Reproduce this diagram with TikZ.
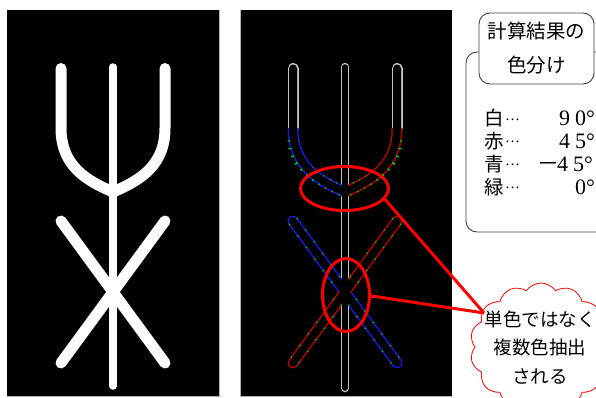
\documentclass[tikz,border=0pt]{standalone}
\usepackage{fontspec}
\setmainfont{Liberation Serif}
\newfontfamily\jpfont{Noto Sans CJK JP}
\usetikzlibrary{shapes.geometric,shapes.symbols}
\definecolor{edgegray}{RGB}{195,195,195}
\definecolor{eblue}{RGB}{25,25,225}
\definecolor{ered}{RGB}{185,0,0}
\definecolor{egreen}{RGB}{0,210,0}
\tikzset{
  panel/.style={fill=black},
  paneledge/.style={draw=gray!60, line width=1pt},
  solidstroke/.style={draw=white, line cap=round, line join=round},
  inner/.style={draw=black, line cap=round, line join=round},
  greendots/.style={draw=egreen, line cap=butt},
  redell/.style={ellipse, draw=red, line width=3pt, inner sep=0pt},
  redline/.style={draw=red, line width=3pt},
  boxstyle/.style={rectangle, rounded corners=11pt, draw=black!75, line width=0.9pt, fill=white, inner sep=0pt},
  jptext/.style={font=\jpfont\fontsize{19.5}{23}\selectfont, inner sep=0pt},
  dotstext/.style={font=\fontsize{15}{18}\selectfont, inner sep=0pt},
  numtext/.style={font=\fontsize{22}{24}\selectfont, inner sep=0pt},
  cloudbox/.style={cloud, draw=red, line width=0.8pt, cloud puffs=14, cloud puff arc=110, inner sep=0pt, fill=white},
}
\begin{document}
\begin{tikzpicture}[x=1pt,y=-1pt]
\useasboundingbox (0,0) rectangle (596,397);
\clip (0,0) rectangle (596,397);

% panels
\fill[panel] (7,10) rectangle (219,396);
\fill[panel] (240,10) rectangle (452,396);
\draw[paneledge] (219,10) -- (219,396) -- (7,396);
\draw[paneledge] (240,10) -- (240,396) -- (452,396);

% left panel: solid white figure
\draw[solidstroke, line width=7.5pt] (113,67) -- (113,386);
\draw[solidstroke, line width=11pt] (61,68.5) -- (61,128) .. controls (61,165) and (85,180) .. (113,192) .. controls (141,180) and (165,165) .. (165,128) -- (165,68.5);
\draw[solidstroke, line width=11pt] (61,221) -- (165,363);
\draw[solidstroke, line width=11pt] (165,221) -- (61,363);

% right panel: edge outlines
\draw[draw=edgegray, line width=8.5pt, line cap=round] (345,67) -- (345,388);
\draw[draw=edgegray, line width=11pt, line cap=round] (293,68.5) -- (293,128);
\draw[draw=edgegray, line width=11pt, line cap=round] (397,68.5) -- (397,128);
\draw[draw=eblue, line width=11pt] (293,128) .. controls (293,165) and (317,180) .. (345,192);
\draw[draw=ered, line width=11pt] (397,128) .. controls (397,165) and (373,180) .. (345,192);
\draw[draw=eblue, line width=11pt, line cap=round] (293,221) -- (397,363);
\draw[draw=ered, line width=11pt, line cap=round] (397,221) -- (293,363);
\draw[greendots, line width=11pt, dash pattern=on 1.3pt off 6pt] (293,140) .. controls (293,165) and (317,180) .. (345,192);
\draw[greendots, line width=11pt, dash pattern=on 1.3pt off 6pt] (397,140) .. controls (397,165) and (373,180) .. (345,192);
\draw[greendots, line width=11pt, dash pattern=on 1.3pt off 13pt] (293,221) -- (397,363);
\draw[greendots, line width=11pt, dash pattern=on 1.3pt off 13pt] (397,221) -- (293,363);
\draw[inner, line width=5.5pt] (345,67) -- (345,388);
\draw[inner, line width=8pt] (293,68.5) -- (293,128) .. controls (293,165) and (317,180) .. (345,192) .. controls (373,180) and (397,165) .. (397,128) -- (397,68.5);
\draw[inner, line width=8pt] (293,221) -- (397,363);
\draw[inner, line width=8pt] (397,221) -- (293,363);

% callout box with list
\node[boxstyle, minimum width=146pt, minimum height=180pt] (listbox) at (539,142) {};
\node[boxstyle, minimum width=115pt, minimum height=71pt, align=center,
      font=\jpfont\fontsize{19.5}{34}\selectfont] (title) at (536.5,48.5) {計算結果の\\色分け};

\node[jptext, anchor=base west] (n1) at (484,125.5) {白};
\node[jptext, anchor=base west] (n2) at (484,148) {赤};
\node[jptext, anchor=base west] (n3) at (484,171) {青};
\node[jptext, anchor=base west] (n4) at (484,194) {緑};
\node[dotstext, anchor=base] (d1) at (512.5,120) {…};
\node[dotstext, anchor=base] (d2) at (512.5,142.5) {…};
\node[dotstext, anchor=base] (d3) at (512.5,165.5) {…};
\node[dotstext, anchor=base] (d4) at (512.5,188.5) {…};
\node[numtext, anchor=base east] (v1) at (595,125.5) {9\hspace{5pt}0°};
\node[numtext, anchor=base east] (v2) at (595,148) {4\hspace{5pt}5°};
\node[numtext, anchor=base east] (v3) at (593,171) {{\jpfont －}\hspace{-2pt}4\hspace{5pt}5°};
\node[numtext, anchor=base east] (v4) at (595,194) {0°};

% cloud
\node[cloudbox, minimum width=142pt, minimum height=128pt] (cl) at (541,347) {};
\node[jptext, align=center, font=\jpfont\fontsize{18.5}{28.5}\selectfont] (cltext) at (540,347.5) {単色ではなく\\複数色抽出\\される};

% red ellipses and connectors
\node[redell, minimum width=88pt, minimum height=44pt] (e1) at (344.5,188.5) {};
\node[redell, minimum width=47pt, minimum height=73pt] (e2) at (346,295) {};
\coordinate (tip) at (484,313);
\draw[redline] (e1.-15) -- (tip);
\draw[redline] (e2.-2) -- (tip);
\end{tikzpicture}
\end{document}
